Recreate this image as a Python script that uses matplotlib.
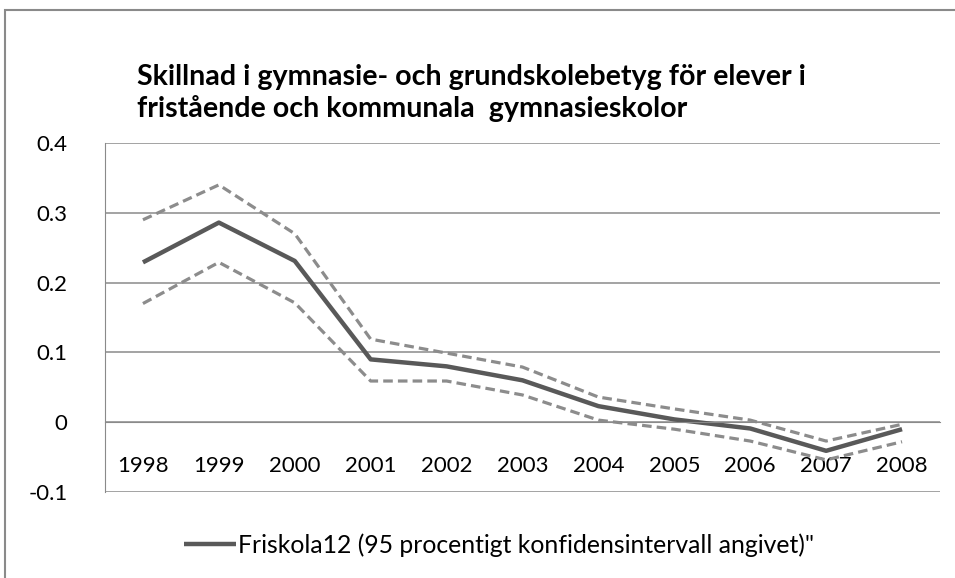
import matplotlib
matplotlib.use("Agg")
import matplotlib.pyplot as plt
from matplotlib.patches import Rectangle

years = ["1998", "1999", "2000", "2001", "2002", "2003", "2004", "2005", "2006", "2007", "2008"]
friskola = [0.229, 0.286, 0.231, 0.090, 0.080, 0.060, 0.023, 0.004, -0.009, -0.041, -0.010]
upper = [0.290, 0.340, 0.270, 0.119, 0.099, 0.079, 0.036, 0.019, 0.003, -0.027, -0.003]
lower = [0.170, 0.229, 0.171, 0.059, 0.059, 0.039, 0.003, -0.010, -0.027, -0.054, -0.028]

plt.rcParams['font.family'] = ['Lato', 'DejaVu Sans']

fig = plt.figure(figsize=(9.55, 5.78), dpi=100)
ax = fig.add_axes([105 / 955, 1 - 492 / 578, 835 / 955, 349 / 578])

x = range(len(years))
ax.plot(x, upper, color='#8c8c8c', lw=2.3, dashes=(3, 1.6))
ax.plot(x, lower, color='#8c8c8c', lw=2.3, dashes=(3, 1.6))
main, = ax.plot(x, friskola, color='#595959', lw=3.2, solid_capstyle='butt')

ax.set_xlim(-0.5, len(years) - 0.5)
ax.set_ylim(-0.1, 0.4)
ax.set_yticks([-0.1, 0, 0.1, 0.2, 0.3, 0.4])
ax.set_yticklabels(['-0.1', '0', '0.1', '0.2', '0.3', '0.4'])
ax.yaxis.grid(True, color='#8a8a8a', lw=1.1)
ax.set_axisbelow(True)

ax.set_xticks(list(x))
ax.set_xticklabels(years)
ax.spines['bottom'].set_position(('data', 0))
ax.spines['bottom'].set_color('#8a8a8a')
ax.spines['top'].set_visible(False)
ax.spines['right'].set_visible(False)
ax.spines['left'].set_color('#8a8a8a')
ax.tick_params(axis='x', length=0, pad=24, labelsize=16)
ax.tick_params(axis='y', length=0, pad=27, labelsize=16)

fig.text(137 / 955, 1 - 77 / 578, "Skillnad i gymnasie- och grundskolebetyg för elever i",
         fontsize=20.6, fontweight='bold', va='center', ha='left')
fig.text(137 / 955, 1 - 108 / 578, "fristående och kommunala  gymnasieskolor",
         fontsize=20.6, fontweight='bold', va='center', ha='left')

fig.legend([main], ['Friskola12 (95 procentigt konfidensintervall angivet)"'],
           loc='center', bbox_to_anchor=(499 / 955, 1 - 545 / 578), frameon=False,
           fontsize=17.8, handlelength=2.1, handletextpad=0.1)

fig.patches.append(Rectangle((5 / 955, -0.2), 1.2, 1.2 - 10 / 578, transform=fig.transFigure,
                             fill=False, edgecolor='#8a8a8a', lw=1.5))

fig.savefig('out.png', dpi=100)
